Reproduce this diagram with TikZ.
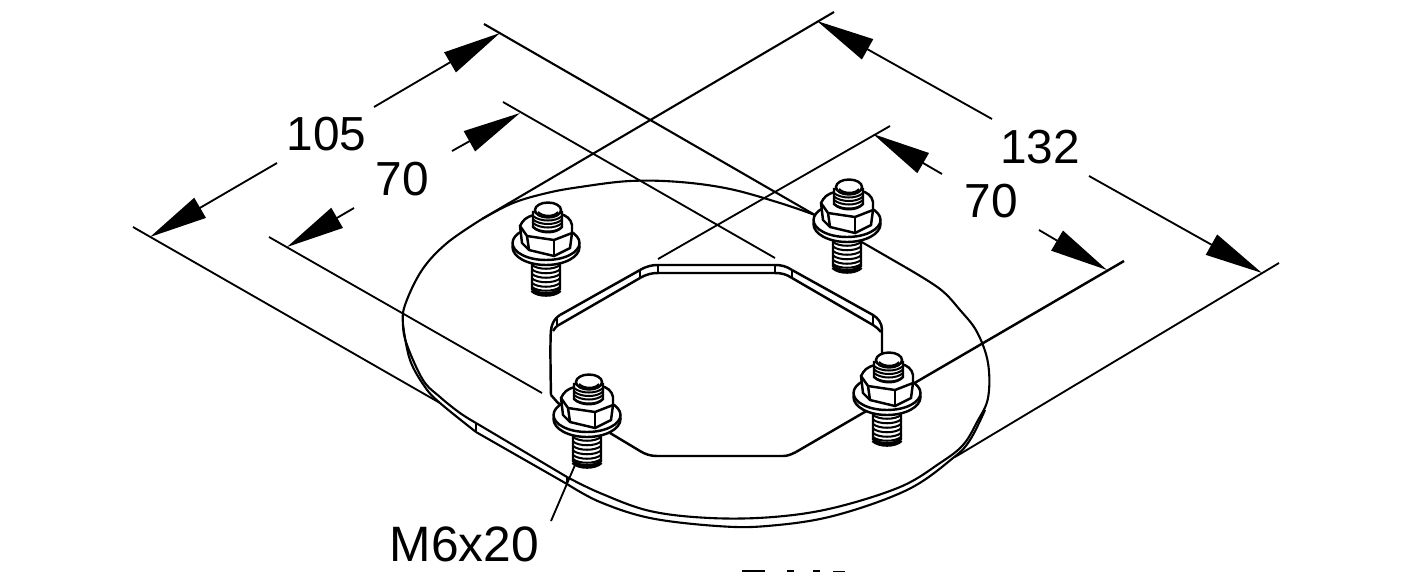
\documentclass[tikz,border=0pt]{standalone}
\usepackage{fontspec}
\setmainfont{Liberation Sans}
\usetikzlibrary{arrows.meta, positioning}

\tikzset{
    bolt/.pic={
        % lower stud
        \draw[boltline, fill=white] (-14,18) -- (-14,46) .. controls (-8,52) and (8,52) .. (14,46) -- (14,18) -- cycle;
        \foreach \yy in {22,26.5,31,35.5,40,44}
            \draw[threadline] (-14,\yy) .. controls (-8,\yy+5) and (8,\yy+5) .. (14,\yy);
        \draw[line width=2.6pt] (-14,47) .. controls (-8,53) and (8,53) .. (14,47);
        % flange
        \draw[boltline, fill=white] (0,4) ellipse [x radius=33.5, y radius=18];
        \draw[boltline, fill=white] (0,0) ellipse [x radius=33.5, y radius=17];
        % nut
        \draw[boltline, fill=white] (-24,0) -- (-26,-17) .. controls (-23,-23) and (-20,-26) .. (-12,-28) -- (14,-29) .. controls (20,-28) and (25,-24) .. (26,-18) -- (26,-10) -- (24,5) -- (8,13) -- (-17,7) -- cycle;
        \draw[boltline] (-26,-17) -- (-19,-7) -- (8,-3) -- (26,-10);
        \draw[boltline] (-19,-7) -- (-17,7);
        \draw[boltline] (8,-3) -- (8,13);
        % upper stud
        \draw[boltline, fill=white] (-13,-31) -- (-13,-16) .. controls (-6,-9) and (10,-9) .. (16,-16) -- (16,-31) -- cycle;
        \foreach \yy in {-27,-23.5,-20,-16}
            \draw[threadline] (-13,\yy) .. controls (-6,\yy+6) and (10,\yy+6) .. (16,\yy);
        \draw[boltline, fill=white] (2,-33) ellipse [x radius=13, y radius=7.5];
        \draw[threadline] (-8,-31) .. controls (-3,-26) and (8,-26) .. (12,-31);
    }
}

\begin{document}
\begin{tikzpicture}[
        x=0.02cm, y=-0.02cm,
        dimline/.style={line width=1.05pt},
        plateline/.style={line width=1.2pt},
        holeline/.style={line width=1.4pt},
        boltline/.style={line width=1.4pt},
        threadline/.style={line width=1.15pt},
        dimarrow/.style={dimline, -{Triangle[length=33pt, width=13pt]}},
        dimtext/.style={font=\fontsize{27.2}{30}\selectfont, inner sep=0pt}
    ]
    \useasboundingbox (0,0) rectangle (1415,572);

    % plate
    \draw[plateline] plot[smooth, tension=0.6] coordinates {(482,219) (513,203) (547,193) (580,187) (630,181) (680,182) (730,189) (780,203) (815,215)};
    \draw[plateline] plot[smooth, tension=0.6] coordinates {(905,267) (940,289) (960,310) (977,332) (988,363) (988,398) (977,422) (963,445) (940,463) (900,487) (833,508) (773,517) (710,518) (650,511) (600,493) (567,477)};
    \draw[plateline] plot[smooth, tension=0.6] coordinates {(482,219) (447,243) (422,270) (405,305) (403,325) (407,345) (423,380) (440,397) (460,413) (476,423)};
    \draw[plateline] (476,423) -- (567,477);
    \draw[plateline] plot[smooth, tension=0.6] coordinates {(403,325) (410,360) (425,387) (440,403) (476,432)};
    \draw[plateline] (476,432) -- (567,484);
    \draw[plateline] plot[smooth, tension=0.6] coordinates {(567,484) (600,502) (650,518) (717,526) (767,526) (833,516) (907,490) (953,458) (970,440) (985,410)};
    \draw[plateline] (476,423) -- (476,432);
    \draw[plateline] (567,477) -- (567,484);

    % hole
    \draw[holeline] plot[smooth, tension=0.5] coordinates {(551,395) (551,330) (560,315)};
    \draw[holeline] (551,395) -- (558,403) -- (566,408);
    \draw[holeline] (560,315) -- (640,270);
    \draw[holeline] (640,270) .. controls (647,266) and (652,265) .. (658,265) -- (775,265) .. controls (781,265) and (786,266) .. (792,270);
    \draw[holeline] (792,270) -- (873,315) .. controls (878,318) and (882,323) .. (882,330) -- (882,355);
    \draw[holeline] (553,331) .. controls (555,328) and (556,327) .. (557,326) -- (640,278);
    \draw[holeline] (640,278) .. controls (647,274) and (652,273) .. (658,273) -- (775,273) .. controls (781,273) and (786,274) .. (792,278);
    \draw[holeline] (792,278) -- (873,325) .. controls (876,327) and (879,329) .. (881,332);
    \draw[holeline] (557,318) -- (557,326);
    \draw[holeline] (640,270) -- (640,278);
    \draw[holeline] (658,265) -- (658,273);
    \draw[holeline] (775,265) -- (775,273);
    \draw[holeline] (792,270) -- (792,278);
    \draw[holeline] (873,315) -- (873,325);
    \draw[holeline] (610,433) -- (640,451) .. controls (645,454) and (650,456) .. (657,456) -- (783,456) .. controls (788,456) and (792,454) .. (796,452);

    % extension lines
    \coordinate (leftA) at (133,227);
    \coordinate (leftB) at (440,403);
    \coordinate (leftC) at (269,237);
    \coordinate (leftD) at (542,393);
    \coordinate (topA) at (484,24);
    \coordinate (topB) at (905,267);
    \coordinate (topC) at (503,102);
    \coordinate (topD) at (775,258);
    \coordinate (rightA) at (834,12);
    \coordinate (rightB) at (482,219);
    \coordinate (rightC) at (890,126);
    \coordinate (rightD) at (658,259);
    \coordinate (lowA) at (1279,263);
    \coordinate (lowB) at (955,457);
    \coordinate (lowC) at (1124,261);
    \coordinate (lowD) at (796,452);
    \draw[dimline] (leftA) -- (leftB);
    \draw[dimline] (leftC) -- (leftD);
    \draw[plateline] (topA) -- (topB);
    \draw[dimline] (topC) -- (topD);
    \draw[plateline] (rightA) -- (rightB);
    \draw[dimline] (rightC) -- (rightD);
    \draw[dimline] (lowA) -- (lowB);
    \draw[holeline] (lowC) -- (lowD);

    % bolts
    \pic (boltA) at (546,243) {bolt};
    \pic (boltB) at (847,220) {bolt};
    \pic (boltC) at (587,415) {bolt};
    \pic (boltD) at (887,393) {bolt};

    % dimensions
    \node[dimtext] (widthOuter) at (326.5,134) {105};
    \node[dimtext] (widthInner) at (402.5,179) {70};
    \node[dimtext] (lengthOuter) at (1040,147) {132};
    \node[dimtext] (lengthInner) at (991,201.5) {70};
    \node[dimtext, font=\fontsize{28.3}{30}\selectfont] (boltLabel) at (464.5,544) {M6x20};

    \coordinate (wo1) at (277,163);
    \coordinate (wo2) at (150,237);
    \coordinate (wo3) at (374,107);
    \coordinate (wo4) at (500,33);
    \coordinate (wi1) at (354,208);
    \coordinate (wi2) at (287,247);
    \coordinate (wi3) at (452,151);
    \coordinate (wi4) at (520,113);
    \coordinate (lo1) at (992,119);
    \coordinate (lo2) at (817,21);
    \coordinate (lo3) at (1089,176);
    \coordinate (lo4) at (1262,273);
    \coordinate (li1) at (942,174);
    \coordinate (li2) at (873,134);
    \coordinate (li3) at (1039,230);
    \coordinate (li4) at (1107,270);
    \foreach \from/\tip in {wo1/wo2, wo3/wo4, wi1/wi2, wi3/wi4, lo1/lo2, lo3/lo4, li1/li2, li3/li4}
        \draw[dimarrow] (\from) -- (\tip);

    % leader
    \coordinate (leaderEnd) at (551,521);
    \draw[dimline] (575,465) -- (leaderEnd);

    % clipped edge of the next line
    \fill (742,570) rectangle (765,572);
    \fill (787,570) rectangle (794,572);
    \fill (813,570) rectangle (820,572);
    \fill (833,570.5) rectangle (845,572);
\end{tikzpicture}
\end{document}
